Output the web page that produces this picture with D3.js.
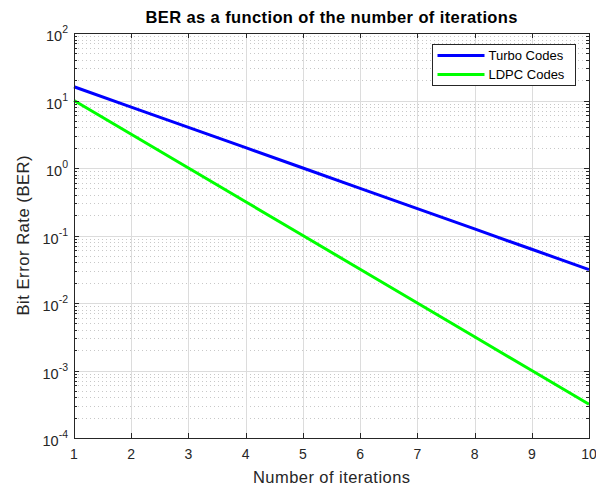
<!DOCTYPE html>
<html>
<head>
<meta charset="utf-8">
<script src="https://cdn.jsdelivr.net/npm/d3@7"></script>
<style>
  body { margin: 0; background: #fff; }
  svg { font-family: 'Liberation Sans', Arial, Helvetica, sans-serif; }
</style>
</head>
<body>
<svg id="chart" width="596" height="488"></svg>
<script>
// Data
const iterations = [1, 2, 3, 4, 5, 6, 7, 8, 9, 10];
const turboBER = [16, 8, 4, 2, 1, 0.5, 0.25, 0.125, 0.0625, 0.03125];
const ldpcBER = [10, 3.162, 1, 0.3162, 0.1, 0.03162, 0.01, 0.003162, 0.001, 0.0003162];
const xTicks = [1, 2, 3, 4, 5, 6, 7, 8, 9, 10];
const yDecades = [-4, -3, -2, -1, 0, 1, 2];

const series = [
  { name: 'Turbo Codes', values: turboBER, color: '#0000ff' },
  { name: 'LDPC Codes', values: ldpcBER, color: '#00ff00' },
];

const W = 596, H = 488;
const m = { left: 74, right: 7, top: 33, bottom: 50 };
const svg = d3.select('#chart');

const x = d3.scaleLinear().domain([1, 10]).range([m.left, W - m.right]);
const y = d3.scaleLog().domain([1e-4, 1e2]).range([H - m.bottom, m.top]);

const axisColor = '#262626';
const cx = (m.left + W - m.right) / 2;

// ── Grid ──────────────────────────────────────────────
const grid = svg.append('g');
// minor y grid (dotted)
const minor = [];
yDecades.slice(0, -1).forEach(d => {
  for (let k = 2; k <= 9; k++) minor.push(k * Math.pow(10, d));
});
grid.selectAll('.minor').data(minor).enter().append('line')
  .attr('x1', m.left).attr('x2', W - m.right)
  .attr('y1', d => Math.round(y(d)) + 0.5).attr('y2', d => Math.round(y(d)) + 0.5)
  .attr('stroke', '#c8c8c8').attr('stroke-width', 1)
  .attr('stroke-dasharray', '1,3');
// major y grid
grid.selectAll('.majy').data(yDecades.slice(1, -1)).enter().append('line')
  .attr('x1', m.left).attr('x2', W - m.right)
  .attr('y1', d => Math.round(y(Math.pow(10, d))) + 0.5).attr('y2', d => Math.round(y(Math.pow(10, d))) + 0.5)
  .attr('stroke', '#dcdcdc').attr('stroke-width', 1);
// major x grid
grid.selectAll('.majx').data(xTicks.slice(1, -1)).enter().append('line')
  .attr('x1', d => Math.round(x(d)) + 0.5).attr('x2', d => Math.round(x(d)) + 0.5)
  .attr('y1', m.top).attr('y2', H - m.bottom)
  .attr('stroke', '#dcdcdc').attr('stroke-width', 1);

// ── Lines ─────────────────────────────────────────────
const line = d3.line().x((d, i) => x(iterations[i])).y(d => y(d));
series.forEach(s => {
  svg.append('path').datum(s.values)
    .attr('d', line)
    .attr('fill', 'none')
    .attr('stroke', s.color)
    .attr('stroke-width', 3);
});

// ── Axes / box ────────────────────────────────────────
const box = svg.append('g');
box.append('rect')
  .attr('x', m.left + 0.5).attr('y', m.top + 0.5)
  .attr('width', W - m.right - m.left).attr('height', H - m.bottom - m.top)
  .attr('fill', 'none').attr('stroke', axisColor).attr('stroke-width', 1);

// x ticks (bottom + top)
xTicks.forEach(t => {
  const px = Math.round(x(t)) + 0.5;
  box.append('line').attr('x1', px).attr('x2', px)
    .attr('y1', H - m.bottom).attr('y2', H - m.bottom - 5).attr('stroke', axisColor);
  box.append('line').attr('x1', px).attr('x2', px)
    .attr('y1', m.top).attr('y2', m.top + 5).attr('stroke', axisColor);
  box.append('text')
    .attr('x', x(t)).attr('y', H - m.bottom + 21)
    .attr('text-anchor', 'middle').attr('font-size', 14).attr('fill', axisColor)
    .text(t);
});

// y ticks: major + minor, left + right
yDecades.forEach(d => {
  const py = Math.round(y(Math.pow(10, d))) + 0.5;
  box.append('line').attr('x1', m.left).attr('x2', m.left + 5)
    .attr('y1', py).attr('y2', py).attr('stroke', axisColor);
  box.append('line').attr('x1', W - m.right).attr('x2', W - m.right - 5)
    .attr('y1', py).attr('y2', py).attr('stroke', axisColor);
  const lab = box.append('text')
    .attr('x', m.left - 6).attr('y', py + 7.5)
    .attr('text-anchor', 'end').attr('font-size', 14.5).attr('fill', axisColor);
  lab.append('tspan').text('10');
  lab.append('tspan').attr('dy', -8).attr('font-size', 10.5).text(d);
});
minor.forEach(v => {
  const py = Math.round(y(v)) + 0.5;
  box.append('line').attr('x1', m.left).attr('x2', m.left + 3)
    .attr('y1', py).attr('y2', py).attr('stroke', axisColor);
  box.append('line').attr('x1', W - m.right).attr('x2', W - m.right - 3)
    .attr('y1', py).attr('y2', py).attr('stroke', axisColor);
});

// ── Labels ────────────────────────────────────────────
svg.append('text')
  .attr('x', cx).attr('y', 23)
  .attr('text-anchor', 'middle').attr('font-size', 16.5).attr('font-weight', 'bold')
  .attr('textLength', 372).attr('lengthAdjust', 'spacing')
  .attr('fill', '#000')
  .text('BER as a function of the number of iterations');

svg.append('text')
  .attr('x', cx).attr('y', 483)
  .attr('text-anchor', 'middle').attr('font-size', 16.5).attr('fill', axisColor)
  .attr('textLength', 157).attr('lengthAdjust', 'spacing')
  .text('Number of iterations');

svg.append('text')
  .attr('transform', `translate(29,${(m.top + H - m.bottom) / 2}) rotate(-90)`)
  .attr('text-anchor', 'middle').attr('font-size', 16.5).attr('fill', axisColor)
  .attr('textLength', 160).attr('lengthAdjust', 'spacing')
  .text('Bit Error Rate (BER)');

// ── Legend ────────────────────────────────────────────
const lg = svg.append('g').attr('transform', 'translate(432.5,44.5)');
lg.append('rect').attr('width', 143).attr('height', 41)
  .attr('fill', '#fff').attr('stroke', axisColor).attr('stroke-width', 1);
series.forEach((s, i) => {
  const cy = 11 + i * 19;
  lg.append('line').attr('x1', 5).attr('x2', 52).attr('y1', cy).attr('y2', cy)
    .attr('stroke', s.color).attr('stroke-width', 3);
  lg.append('text').attr('x', 56).attr('y', cy + 4.5)
    .attr('font-size', 13).attr('fill', '#000').text(s.name);
});
</script>
</body>
</html>
